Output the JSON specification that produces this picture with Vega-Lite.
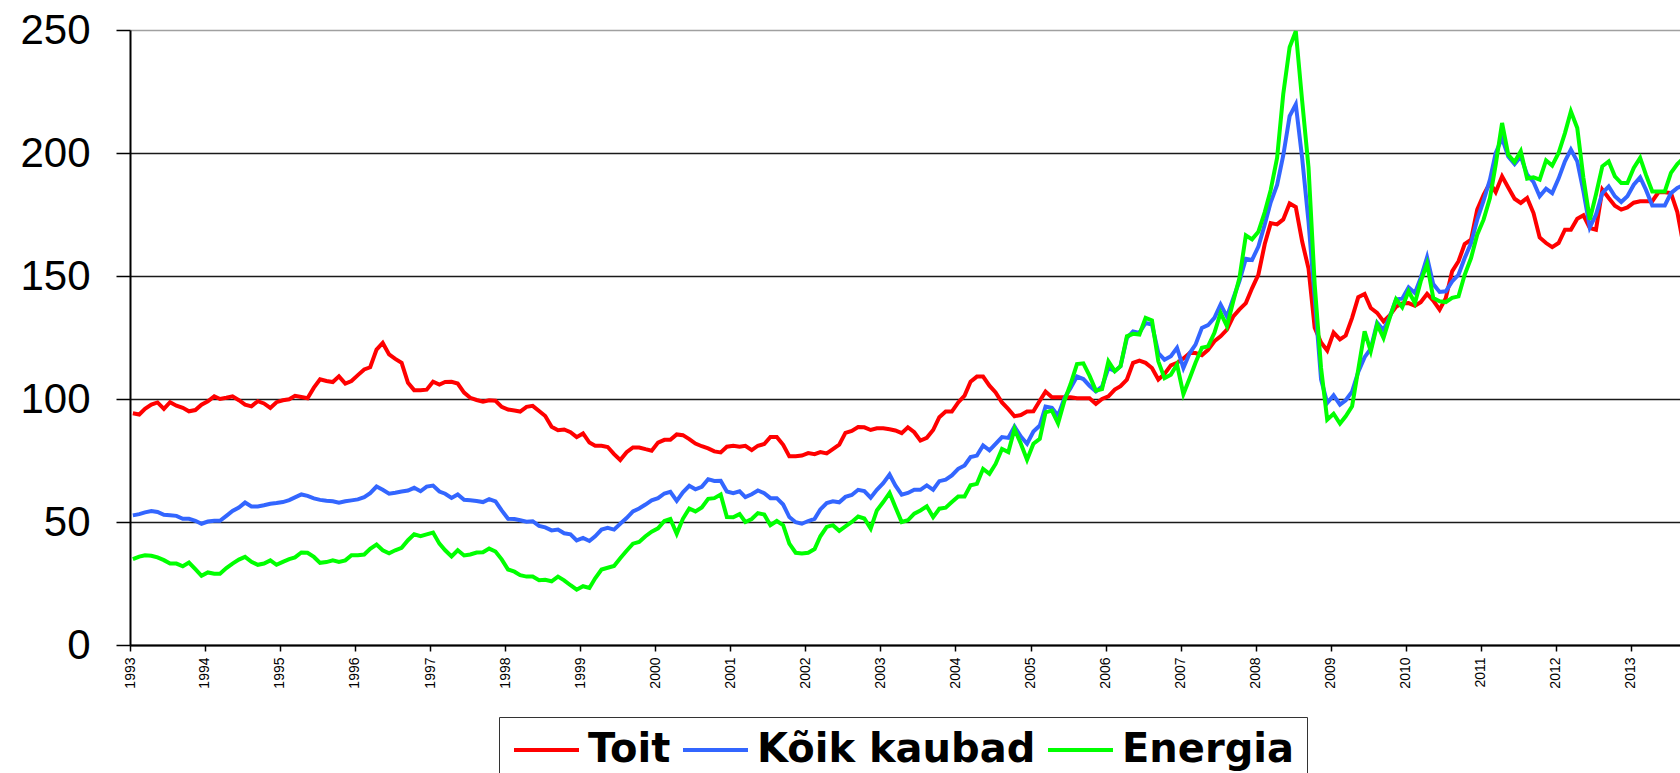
{
"$schema": "https://vega.github.io/schema/vega-lite/v6.json",
"width": 1550, "height": 615,
"autosize": {"type": "none"},
"padding": {"left": 130, "top": 30, "right": 0, "bottom": 128},
"background": "white",
"config": {"view": {"stroke": null}},
"data": {"values": [
{"d":"1993-01-15","Toit":94.2,"Kõik kaubad":52.7,"Energia":34.9},
{"d":"1993-02-15","Toit":93.7,"Kõik kaubad":53.2,"Energia":35.9},
{"d":"1993-03-15","Toit":96,"Kõik kaubad":53.9,"Energia":36.5},
{"d":"1993-04-15","Toit":97.7,"Kõik kaubad":54.5,"Energia":36.3},
{"d":"1993-05-15","Toit":98.6,"Kõik kaubad":54.1,"Energia":35.6},
{"d":"1993-06-15","Toit":96,"Kõik kaubad":52.9,"Energia":34.5},
{"d":"1993-07-15","Toit":98.7,"Kõik kaubad":52.7,"Energia":33.1},
{"d":"1993-08-15","Toit":97.3,"Kõik kaubad":52.5,"Energia":33.1},
{"d":"1993-09-15","Toit":96.4,"Kõik kaubad":51.3,"Energia":32},
{"d":"1993-10-15","Toit":95,"Kõik kaubad":51.3,"Energia":33.5},
{"d":"1993-11-15","Toit":95.5,"Kõik kaubad":50.5,"Energia":30.8},
{"d":"1993-12-15","Toit":97.7,"Kõik kaubad":49.3,"Energia":28.1},
{"d":"1994-01-15","Toit":99.1,"Kõik kaubad":50.2,"Energia":29.5},
{"d":"1994-02-15","Toit":101.1,"Kõik kaubad":50.5,"Energia":29},
{"d":"1994-03-15","Toit":100,"Kõik kaubad":50.5,"Energia":29},
{"d":"1994-04-15","Toit":100.5,"Kõik kaubad":52.5,"Energia":31.3},
{"d":"1994-05-15","Toit":101.1,"Kõik kaubad":54.5,"Energia":33.1},
{"d":"1994-06-15","Toit":99.5,"Kõik kaubad":55.9,"Energia":34.7},
{"d":"1994-07-15","Toit":97.7,"Kõik kaubad":57.9,"Energia":35.8},
{"d":"1994-08-15","Toit":97,"Kõik kaubad":56.3,"Energia":33.8},
{"d":"1994-09-15","Toit":99.1,"Kõik kaubad":56.3,"Energia":32.6},
{"d":"1994-10-15","Toit":98.2,"Kõik kaubad":56.8,"Energia":33.1},
{"d":"1994-11-15","Toit":96.4,"Kõik kaubad":57.4,"Energia":34.4},
{"d":"1994-12-15","Toit":98.7,"Kõik kaubad":57.7,"Energia":32.6},
{"d":"1995-01-15","Toit":99.5,"Kõik kaubad":58.1,"Energia":33.8},
{"d":"1995-02-15","Toit":99.9,"Kõik kaubad":58.9,"Energia":34.9},
{"d":"1995-03-15","Toit":101.3,"Kõik kaubad":60,"Energia":35.6},
{"d":"1995-04-15","Toit":100.8,"Kõik kaubad":61.2,"Energia":37.6},
{"d":"1995-05-15","Toit":100.3,"Kõik kaubad":60.6,"Energia":37.5},
{"d":"1995-06-15","Toit":104.6,"Kõik kaubad":59.6,"Energia":35.8},
{"d":"1995-07-15","Toit":108,"Kõik kaubad":59,"Energia":33.4},
{"d":"1995-08-15","Toit":107.3,"Kõik kaubad":58.6,"Energia":33.7},
{"d":"1995-09-15","Toit":106.9,"Kõik kaubad":58.4,"Energia":34.4},
{"d":"1995-10-15","Toit":109.2,"Kõik kaubad":57.8,"Energia":33.8},
{"d":"1995-11-15","Toit":106.3,"Kõik kaubad":58.4,"Energia":34.4},
{"d":"1995-12-15","Toit":107.3,"Kõik kaubad":58.8,"Energia":36.5},
{"d":"1996-01-15","Toit":109.7,"Kõik kaubad":59.2,"Energia":36.5},
{"d":"1996-02-15","Toit":112,"Kõik kaubad":60.1,"Energia":36.8},
{"d":"1996-03-15","Toit":112.9,"Kõik kaubad":61.7,"Energia":39.1},
{"d":"1996-04-15","Toit":120.1,"Kõik kaubad":64.4,"Energia":40.8},
{"d":"1996-05-15","Toit":122.8,"Kõik kaubad":63.1,"Energia":38.5},
{"d":"1996-06-15","Toit":118.1,"Kõik kaubad":61.5,"Energia":37.3},
{"d":"1996-07-15","Toit":116.3,"Kõik kaubad":61.9,"Energia":38.5},
{"d":"1996-08-15","Toit":114.7,"Kõik kaubad":62.4,"Energia":39.5},
{"d":"1996-09-15","Toit":106.6,"Kõik kaubad":62.8,"Energia":42.6},
{"d":"1996-10-15","Toit":103.6,"Kõik kaubad":63.9,"Energia":45},
{"d":"1996-11-15","Toit":103.6,"Kõik kaubad":62.5,"Energia":44.2},
{"d":"1996-12-15","Toit":103.8,"Kõik kaubad":64.4,"Energia":45},
{"d":"1997-01-15","Toit":107,"Kõik kaubad":64.8,"Energia":45.7},
{"d":"1997-02-15","Toit":105.9,"Kõik kaubad":62.4,"Energia":41.2},
{"d":"1997-03-15","Toit":106.9,"Kõik kaubad":61.5,"Energia":38.5},
{"d":"1997-04-15","Toit":107,"Kõik kaubad":59.8,"Energia":36},
{"d":"1997-05-15","Toit":106.3,"Kõik kaubad":61.2,"Energia":38.5},
{"d":"1997-06-15","Toit":102.6,"Kõik kaubad":59,"Energia":36.4},
{"d":"1997-07-15","Toit":100.5,"Kõik kaubad":58.8,"Energia":36.8},
{"d":"1997-08-15","Toit":99.6,"Kõik kaubad":58.5,"Energia":37.6},
{"d":"1997-09-15","Toit":98.9,"Kõik kaubad":58.1,"Energia":37.7},
{"d":"1997-10-15","Toit":99.5,"Kõik kaubad":59.3,"Energia":39.2},
{"d":"1997-11-15","Toit":99.3,"Kõik kaubad":58.4,"Energia":38},
{"d":"1997-12-15","Toit":96.8,"Kõik kaubad":54.7,"Energia":34.8},
{"d":"1998-01-15","Toit":95.7,"Kõik kaubad":51.3,"Energia":30.7},
{"d":"1998-02-15","Toit":95.3,"Kõik kaubad":51.2,"Energia":29.8},
{"d":"1998-03-15","Toit":94.9,"Kõik kaubad":50.7,"Energia":28.4},
{"d":"1998-04-15","Toit":96.8,"Kõik kaubad":50.1,"Energia":27.8},
{"d":"1998-05-15","Toit":97.2,"Kõik kaubad":50.3,"Energia":27.8},
{"d":"1998-06-15","Toit":95.1,"Kõik kaubad":48.4,"Energia":26.3},
{"d":"1998-07-15","Toit":93.1,"Kõik kaubad":47.8,"Energia":26.5},
{"d":"1998-08-15","Toit":88.7,"Kõik kaubad":46.6,"Energia":25.9},
{"d":"1998-09-15","Toit":87.3,"Kõik kaubad":46.9,"Energia":27.8},
{"d":"1998-10-15","Toit":87.6,"Kõik kaubad":45.4,"Energia":26.3},
{"d":"1998-11-15","Toit":86.5,"Kõik kaubad":45,"Energia":24.3},
{"d":"1998-12-15","Toit":84.5,"Kõik kaubad":42.5,"Energia":22.5},
{"d":"1999-01-15","Toit":86,"Kõik kaubad":43.5,"Energia":23.9},
{"d":"1999-02-15","Toit":82.3,"Kõik kaubad":42.3,"Energia":23.2},
{"d":"1999-03-15","Toit":81,"Kõik kaubad":44.2,"Energia":27.1},
{"d":"1999-04-15","Toit":81,"Kõik kaubad":46.9,"Energia":30.7},
{"d":"1999-05-15","Toit":80.5,"Kõik kaubad":47.6,"Energia":31.4},
{"d":"1999-06-15","Toit":77.6,"Kõik kaubad":46.9,"Energia":32.1},
{"d":"1999-07-15","Toit":75.2,"Kõik kaubad":49.3,"Energia":35.3},
{"d":"1999-08-15","Toit":78.4,"Kõik kaubad":51.6,"Energia":38.3},
{"d":"1999-09-15","Toit":80.3,"Kõik kaubad":54.3,"Energia":41.2},
{"d":"1999-10-15","Toit":80.3,"Kõik kaubad":55.5,"Energia":41.9},
{"d":"1999-11-15","Toit":79.6,"Kõik kaubad":57.1,"Energia":44.2},
{"d":"1999-12-15","Toit":79,"Kõik kaubad":58.8,"Energia":46.1},
{"d":"2000-01-15","Toit":82.3,"Kõik kaubad":59.7,"Energia":47.4},
{"d":"2000-02-15","Toit":83.4,"Kõik kaubad":61.6,"Energia":50.4},
{"d":"2000-03-15","Toit":83.4,"Kõik kaubad":62.3,"Energia":51.2},
{"d":"2000-04-15","Toit":85.6,"Kõik kaubad":58.6,"Energia":45.2},
{"d":"2000-05-15","Toit":85.3,"Kõik kaubad":62.1,"Energia":51.3},
{"d":"2000-06-15","Toit":83.7,"Kõik kaubad":64.7,"Energia":55.5},
{"d":"2000-07-15","Toit":81.9,"Kõik kaubad":63.3,"Energia":54.3},
{"d":"2000-08-15","Toit":80.8,"Kõik kaubad":64.3,"Energia":55.9},
{"d":"2000-09-15","Toit":79.9,"Kõik kaubad":67.4,"Energia":59.4},
{"d":"2000-10-15","Toit":78.7,"Kõik kaubad":66.7,"Energia":59.7},
{"d":"2000-11-15","Toit":78.3,"Kõik kaubad":66.8,"Energia":61.2},
{"d":"2000-12-15","Toit":80.6,"Kõik kaubad":62.4,"Energia":52},
{"d":"2001-01-15","Toit":81,"Kõik kaubad":61.7,"Energia":51.9},
{"d":"2001-02-15","Toit":80.6,"Kõik kaubad":62.5,"Energia":53.2},
{"d":"2001-03-15","Toit":81,"Kõik kaubad":60.1,"Energia":50},
{"d":"2001-04-15","Toit":79.2,"Kõik kaubad":61.3,"Energia":51.2},
{"d":"2001-05-15","Toit":81,"Kõik kaubad":62.8,"Energia":53.6},
{"d":"2001-06-15","Toit":81.7,"Kõik kaubad":61.7,"Energia":53},
{"d":"2001-07-15","Toit":84.6,"Kõik kaubad":59.7,"Energia":48.7},
{"d":"2001-08-15","Toit":84.6,"Kõik kaubad":59.7,"Energia":50.4},
{"d":"2001-09-15","Toit":81.4,"Kõik kaubad":57.1,"Energia":48.7},
{"d":"2001-10-15","Toit":76.7,"Kõik kaubad":52,"Energia":41.2},
{"d":"2001-11-15","Toit":76.7,"Kõik kaubad":49.9,"Energia":37.5},
{"d":"2001-12-15","Toit":77,"Kõik kaubad":49.3,"Energia":37.2},
{"d":"2002-01-15","Toit":78,"Kõik kaubad":50.4,"Energia":37.5},
{"d":"2002-02-15","Toit":77.6,"Kõik kaubad":51.3,"Energia":39},
{"d":"2002-03-15","Toit":78.4,"Kõik kaubad":55.1,"Energia":44.2},
{"d":"2002-04-15","Toit":77.9,"Kõik kaubad":57.7,"Energia":48},
{"d":"2002-05-15","Toit":79.6,"Kõik kaubad":58.4,"Energia":48.7},
{"d":"2002-06-15","Toit":81.4,"Kõik kaubad":58,"Energia":46.4},
{"d":"2002-07-15","Toit":86.2,"Kõik kaubad":60.2,"Energia":48.2},
{"d":"2002-08-15","Toit":87,"Kõik kaubad":61,"Energia":50},
{"d":"2002-09-15","Toit":88.6,"Kõik kaubad":63.1,"Energia":52.2},
{"d":"2002-10-15","Toit":88.5,"Kõik kaubad":62.6,"Energia":51.4},
{"d":"2002-11-15","Toit":87.4,"Kõik kaubad":59.9,"Energia":47.3},
{"d":"2002-12-15","Toit":88.1,"Kõik kaubad":63.1,"Energia":54.7},
{"d":"2003-01-15","Toit":88.1,"Kõik kaubad":65.8,"Energia":58.1},
{"d":"2003-02-15","Toit":87.7,"Kõik kaubad":69.3,"Energia":61.8},
{"d":"2003-03-15","Toit":87.2,"Kõik kaubad":64.9,"Energia":56.1},
{"d":"2003-04-15","Toit":86.1,"Kõik kaubad":61.1,"Energia":50},
{"d":"2003-05-15","Toit":88.5,"Kõik kaubad":61.8,"Energia":50.7},
{"d":"2003-06-15","Toit":86.5,"Kõik kaubad":63.1,"Energia":53.4},
{"d":"2003-07-15","Toit":83.1,"Kõik kaubad":63.1,"Energia":54.7},
{"d":"2003-08-15","Toit":84.2,"Kõik kaubad":64.9,"Energia":56.4},
{"d":"2003-09-15","Toit":87.4,"Kõik kaubad":63.1,"Energia":52},
{"d":"2003-10-15","Toit":92.6,"Kõik kaubad":66.6,"Energia":55.4},
{"d":"2003-11-15","Toit":94.9,"Kõik kaubad":67.2,"Energia":55.8},
{"d":"2003-12-15","Toit":94.9,"Kõik kaubad":68.9,"Energia":58.1},
{"d":"2004-01-15","Toit":98.6,"Kõik kaubad":71.6,"Energia":60.4},
{"d":"2004-02-15","Toit":101.4,"Kõik kaubad":73,"Energia":60.4},
{"d":"2004-03-15","Toit":107,"Kõik kaubad":76.4,"Energia":64.9},
{"d":"2004-04-15","Toit":109.1,"Kõik kaubad":77,"Energia":65.5},
{"d":"2004-05-15","Toit":109.1,"Kõik kaubad":81.1,"Energia":71.6},
{"d":"2004-06-15","Toit":105.4,"Kõik kaubad":79.1,"Energia":69.6},
{"d":"2004-07-15","Toit":102.7,"Kõik kaubad":81.8,"Energia":73.6},
{"d":"2004-08-15","Toit":98.6,"Kõik kaubad":84.5,"Energia":79.7},
{"d":"2004-09-15","Toit":95.9,"Kõik kaubad":84.2,"Energia":78.4},
{"d":"2004-10-15","Toit":93,"Kõik kaubad":88.8,"Energia":87.8},
{"d":"2004-11-15","Toit":93.5,"Kõik kaubad":84.7,"Energia":81.8},
{"d":"2004-12-15","Toit":94.9,"Kõik kaubad":81.8,"Energia":75.3},
{"d":"2005-01-15","Toit":95,"Kõik kaubad":86.8,"Energia":81.8},
{"d":"2005-02-15","Toit":99.3,"Kõik kaubad":89.2,"Energia":83.8},
{"d":"2005-03-15","Toit":103,"Kõik kaubad":96.9,"Energia":94.6},
{"d":"2005-04-15","Toit":100.7,"Kõik kaubad":96.4,"Energia":95.3},
{"d":"2005-05-15","Toit":100.7,"Kõik kaubad":93.2,"Energia":90.1},
{"d":"2005-06-15","Toit":100.7,"Kõik kaubad":100.4,"Energia":99.3},
{"d":"2005-07-15","Toit":100.7,"Kõik kaubad":104.5,"Energia":106.1},
{"d":"2005-08-15","Toit":100.3,"Kõik kaubad":109.1,"Energia":114.2},
{"d":"2005-09-15","Toit":100.3,"Kõik kaubad":108.1,"Energia":114.5},
{"d":"2005-10-15","Toit":100.3,"Kõik kaubad":105.4,"Energia":109.5},
{"d":"2005-11-15","Toit":98,"Kõik kaubad":103.1,"Energia":103.4},
{"d":"2005-12-15","Toit":100,"Kõik kaubad":105,"Energia":104},
{"d":"2006-01-15","Toit":101.1,"Kõik kaubad":112.6,"Energia":115.3},
{"d":"2006-02-15","Toit":103.8,"Kõik kaubad":111.3,"Energia":111.3},
{"d":"2006-03-15","Toit":105.2,"Kõik kaubad":113.3,"Energia":113.3},
{"d":"2006-04-15","Toit":107.9,"Kõik kaubad":124.8,"Energia":125.5},
{"d":"2006-05-15","Toit":114.7,"Kõik kaubad":127.5,"Energia":126.5},
{"d":"2006-06-15","Toit":115.6,"Kõik kaubad":126.9,"Energia":126.2},
{"d":"2006-07-15","Toit":114.7,"Kõik kaubad":130.9,"Energia":133},
{"d":"2006-08-15","Toit":112.6,"Kõik kaubad":130.3,"Energia":131.9},
{"d":"2006-09-15","Toit":107.9,"Kõik kaubad":118.7,"Energia":115.3},
{"d":"2006-10-15","Toit":110.2,"Kõik kaubad":116,"Energia":108.5},
{"d":"2006-11-15","Toit":113.7,"Kõik kaubad":117.4,"Energia":109.9},
{"d":"2006-12-15","Toit":114.7,"Kõik kaubad":120.8,"Energia":114},
{"d":"2007-01-15","Toit":116.5,"Kõik kaubad":112.6,"Energia":102},
{"d":"2007-02-15","Toit":118.7,"Kõik kaubad":118.7,"Energia":108.5},
{"d":"2007-03-15","Toit":118.7,"Kõik kaubad":122.1,"Energia":114.7},
{"d":"2007-04-15","Toit":117.8,"Kõik kaubad":128.9,"Energia":120.8},
{"d":"2007-05-15","Toit":120,"Kõik kaubad":130,"Energia":121.4},
{"d":"2007-06-15","Toit":123.5,"Kõik kaubad":133,"Energia":126.9},
{"d":"2007-07-15","Toit":125.5,"Kõik kaubad":138.4,"Energia":135},
{"d":"2007-08-15","Toit":128.2,"Kõik kaubad":133.5,"Energia":129.6},
{"d":"2007-09-15","Toit":133.6,"Kõik kaubad":141,"Energia":139.8},
{"d":"2007-10-15","Toit":136.4,"Kõik kaubad":148,"Energia":149.3},
{"d":"2007-11-15","Toit":139,"Kõik kaubad":157,"Energia":166.5},
{"d":"2007-12-15","Toit":145,"Kõik kaubad":156.5,"Energia":164.9},
{"d":"2008-01-15","Toit":150.6,"Kõik kaubad":162,"Energia":168},
{"d":"2008-02-15","Toit":163,"Kõik kaubad":171,"Energia":176},
{"d":"2008-03-15","Toit":171.5,"Kõik kaubad":180,"Energia":185},
{"d":"2008-04-15","Toit":171,"Kõik kaubad":187,"Energia":198},
{"d":"2008-05-15","Toit":173,"Kõik kaubad":199,"Energia":224},
{"d":"2008-06-15","Toit":179.5,"Kõik kaubad":215,"Energia":243},
{"d":"2008-07-15","Toit":178,"Kõik kaubad":219.8,"Energia":249.5},
{"d":"2008-08-15","Toit":164,"Kõik kaubad":198,"Energia":221.2},
{"d":"2008-09-15","Toit":153,"Kõik kaubad":172,"Energia":194.1},
{"d":"2008-10-15","Toit":129,"Kõik kaubad":141,"Energia":146.6},
{"d":"2008-11-15","Toit":123,"Kõik kaubad":108,"Energia":112.6},
{"d":"2008-12-15","Toit":119.7,"Kõik kaubad":98.4,"Energia":91.6},
{"d":"2009-01-15","Toit":127,"Kõik kaubad":101.5,"Energia":94},
{"d":"2009-02-15","Toit":124.2,"Kõik kaubad":97.7,"Energia":90},
{"d":"2009-03-15","Toit":125.8,"Kõik kaubad":99.5,"Energia":93},
{"d":"2009-04-15","Toit":133,"Kõik kaubad":103,"Energia":97},
{"d":"2009-05-15","Toit":141.4,"Kõik kaubad":111,"Energia":112},
{"d":"2009-06-15","Toit":142.7,"Kõik kaubad":117,"Energia":127.5},
{"d":"2009-07-15","Toit":137,"Kõik kaubad":120.5,"Energia":119.4},
{"d":"2009-08-15","Toit":135,"Kõik kaubad":131,"Energia":130.3},
{"d":"2009-09-15","Toit":131.5,"Kõik kaubad":128,"Energia":124.8},
{"d":"2009-10-15","Toit":134,"Kõik kaubad":133.3,"Energia":133},
{"d":"2009-11-15","Toit":137.5,"Kõik kaubad":140.5,"Energia":140.6},
{"d":"2009-12-15","Toit":138.8,"Kõik kaubad":140.8,"Energia":137.3},
{"d":"2010-01-15","Toit":139,"Kõik kaubad":145.4,"Energia":143.8},
{"d":"2010-02-15","Toit":137.9,"Kõik kaubad":143.1,"Energia":139},
{"d":"2010-03-15","Toit":139.3,"Kõik kaubad":149.2,"Energia":147.8},
{"d":"2010-04-15","Toit":142.7,"Kõik kaubad":157.6,"Energia":154.9},
{"d":"2010-05-15","Toit":140,"Kõik kaubad":146.7,"Energia":141.1},
{"d":"2010-06-15","Toit":136.3,"Kõik kaubad":143.5,"Energia":139.7},
{"d":"2010-07-15","Toit":141,"Kõik kaubad":143.8,"Energia":139.4},
{"d":"2010-08-15","Toit":151.9,"Kõik kaubad":147.8,"Energia":141.1},
{"d":"2010-09-15","Toit":156,"Kõik kaubad":150.5,"Energia":141.7},
{"d":"2010-10-15","Toit":163,"Kõik kaubad":157.3,"Energia":150.5},
{"d":"2010-11-15","Toit":164.8,"Kõik kaubad":163.4,"Energia":157.3},
{"d":"2010-12-15","Toit":177,"Kõik kaubad":172.9,"Energia":166.8},
{"d":"2011-01-15","Toit":183,"Kõik kaubad":180.6,"Energia":172.9},
{"d":"2011-02-15","Toit":187.8,"Kõik kaubad":189.2,"Energia":181.7},
{"d":"2011-03-15","Toit":184.1,"Kõik kaubad":200,"Energia":195.3},
{"d":"2011-04-15","Toit":190.5,"Kõik kaubad":206.1,"Energia":212.2},
{"d":"2011-05-15","Toit":186,"Kõik kaubad":198.6,"Energia":199.3},
{"d":"2011-06-15","Toit":181.4,"Kõik kaubad":195.5,"Energia":196.3},
{"d":"2011-07-15","Toit":179.7,"Kõik kaubad":198.6,"Energia":200.7},
{"d":"2011-08-15","Toit":181.7,"Kõik kaubad":191.2,"Energia":189.6},
{"d":"2011-09-15","Toit":175.6,"Kõik kaubad":188.2,"Energia":190.1},
{"d":"2011-10-15","Toit":165.7,"Kõik kaubad":182.4,"Energia":189.2},
{"d":"2011-11-15","Toit":163.4,"Kõik kaubad":185.5,"Energia":197},
{"d":"2011-12-15","Toit":161.7,"Kõik kaubad":183.7,"Energia":194.9},
{"d":"2012-01-15","Toit":163.4,"Kõik kaubad":189.6,"Energia":200},
{"d":"2012-02-15","Toit":168.8,"Kõik kaubad":196.6,"Energia":208.1},
{"d":"2012-03-15","Toit":168.8,"Kõik kaubad":201.4,"Energia":216.9},
{"d":"2012-04-15","Toit":173.3,"Kõik kaubad":196.6,"Energia":210.2},
{"d":"2012-05-15","Toit":174.7,"Kõik kaubad":184.4,"Energia":189.8},
{"d":"2012-06-15","Toit":169.5,"Kõik kaubad":169.8,"Energia":172.9},
{"d":"2012-07-15","Toit":168.8,"Kõik kaubad":174.9,"Energia":183.1},
{"d":"2012-08-15","Toit":185.1,"Kõik kaubad":183.7,"Energia":194.6},
{"d":"2012-09-15","Toit":181.7,"Kõik kaubad":186.4,"Energia":196.6},
{"d":"2012-10-15","Toit":178.6,"Kõik kaubad":182.4,"Energia":190.5},
{"d":"2012-11-15","Toit":177,"Kõik kaubad":180.1,"Energia":187.8},
{"d":"2012-12-15","Toit":177.9,"Kõik kaubad":182.4,"Energia":187.8},
{"d":"2013-01-15","Toit":179.8,"Kõik kaubad":187.1,"Energia":193.9},
{"d":"2013-02-15","Toit":180.4,"Kõik kaubad":190.1,"Energia":198},
{"d":"2013-03-15","Toit":180.4,"Kõik kaubad":185.1,"Energia":191.2},
{"d":"2013-04-15","Toit":180.4,"Kõik kaubad":178.7,"Energia":184.4},
{"d":"2013-05-15","Toit":184,"Kõik kaubad":178.7,"Energia":184.4},
{"d":"2013-06-15","Toit":184,"Kõik kaubad":178.7,"Energia":184.4},
{"d":"2013-07-15","Toit":183.7,"Kõik kaubad":183.7,"Energia":191.9},
{"d":"2013-08-15","Toit":176,"Kõik kaubad":185.8,"Energia":195.5},
{"d":"2013-09-15","Toit":162,"Kõik kaubad":187,"Energia":198}
]},
"transform": [{"fold": ["Toit", "Kõik kaubad", "Energia"], "as": ["series", "value"]}],
"mark": {"type": "line", "strokeWidth": 4, "clip": true},
"encoding": {
  "x": {"field": "d", "type": "temporal",
        "scale": {"type": "utc", "domain": [{"year": 1993, "month": 1, "date": 1, "utc": true}, {"year": 2013, "month": 8, "date": 28, "utc": true}]},
        "axis": {"title": null, "grid": false, "format": "%Y", "formatType": "utc", "tickCount": {"interval": "year", "step": 1},
                 "labelAngle": 270, "labelFont": "Liberation Sans", "labelFontSize": 14, "labelColor": "black",
                 "labelPadding": 6, "tickSize": 6, "tickColor": "black", "tickWidth": 1.5,
                 "domainColor": "black", "domainWidth": 2, "labelOverlap": false, "labelFlush": false}},
  "y": {"field": "value", "type": "quantitative",
        "scale": {"domain": [0, 250], "nice": false},
        "axis": {"title": null, "values": [0, 50, 100, 150, 200, 250],
                 "labelFont": "Liberation Sans", "labelFontSize": 42, "labelColor": "black", "labelPadding": 26,
                 "tickSize": 14, "tickColor": "black", "tickWidth": 1.5,
                 "domainColor": "black", "domainWidth": 2,
                 "grid": true, "gridWidth": 1.5,
                 "gridColor": {"condition": {"test": "datum.value === 250", "value": "#a0a0a0"}, "value": "#1a1a1a"}}},
  "color": {"field": "series", "type": "nominal",
            "scale": {"domain": ["Toit", "Kõik kaubad", "Energia"], "range": ["#ff0000", "#3366ff", "#00ff00"]},
            "legend": {"title": null, "orient": "none", "legendX": 369, "legendY": 687, "direction": "horizontal",
                       "strokeColor": "#333333", "fillColor": "white", "padding": 13,
                       "symbolType": "stroke", "symbolSize": 4225, "symbolStrokeWidth": 4, "clipHeight": 40,
                       "labelFont": "DejaVu Sans", "labelFontSize": 40, "labelFontWeight": "bold", "labelColor": "black",
                       "labelOffset": 7, "columnPadding": 10, "labelLimit": 400}}
}
}
